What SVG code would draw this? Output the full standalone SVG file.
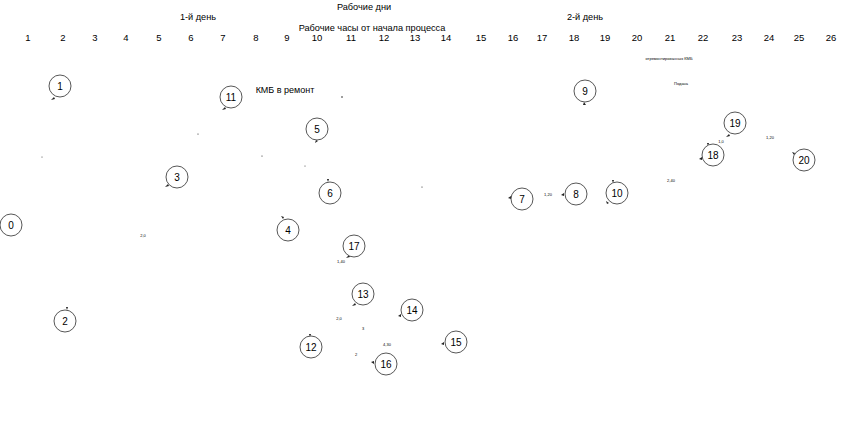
<svg xmlns="http://www.w3.org/2000/svg" width="854" height="430" viewBox="0 0 854 430">
<style>
.t{font-family:"Liberation Sans",Arial,sans-serif;fill:#000;text-anchor:middle}
.h{font-size:9.2px}
.n{font-size:9.5px}
.c circle{fill:#fff;stroke:#444;stroke-width:0.9}
.c text{font-family:"Liberation Sans",Arial,sans-serif;font-size:10px;text-anchor:middle;fill:#000}
.s{font-size:4px}
.x{font-size:4px}
.a{fill:#222}
</style>
<rect width="854" height="430" fill="#fff"/>
<g id="header">
<text class="t h" x="364" y="10">Рабочие дни</text>
<text class="t h" x="198" y="20">1-й день</text>
<text class="t h" x="585" y="20">2-й день</text>
<text class="t h" x="372" y="31">Рабочие часы от начала процесса</text>
<g class="t n">
<text x="28" y="41">1</text><text x="63" y="41">2</text><text x="95" y="41">3</text><text x="126" y="41">4</text><text x="159" y="41">5</text><text x="191" y="41">6</text><text x="223" y="41">7</text><text x="256" y="41">8</text><text x="287" y="41">9</text><text x="317" y="41">10</text><text x="351" y="41">11</text><text x="384" y="41">12</text><text x="415" y="41">13</text><text x="446" y="41">14</text><text x="481" y="41">15</text><text x="513" y="41">16</text><text x="542" y="41">17</text><text x="574" y="41">18</text><text x="605" y="41">19</text><text x="637" y="41">20</text><text x="670" y="41">21</text><text x="703" y="41">22</text><text x="737" y="41">23</text><text x="769" y="41">24</text><text x="799" y="41">25</text><text x="831" y="41">26</text>
</g>
<text class="t" style="font-size:9px" x="285" y="93">КМБ в ремонт</text>
<text class="t x" x="669" y="60">отремонтированных КМБ</text>
<text class="t x" x="681" y="85">Подача</text>
</g>
<g id="connectors">
<path class="a" d="M51 100l3-3 1 2z"/>
<path class="a" d="M222 110l3-3 1 2z"/>
<path class="a" d="M165 187l3-3 1 2z"/>
<path class="a" d="M315 143l1-3 2 1z"/>
<path class="a" d="M327 179l2 0-1 3z"/>
<path class="a" d="M281 216l3 1-1 2z"/>
<path class="a" d="M66 307l2 0-1 3z"/>
<path class="a" d="M346 258l3-3 1 2z"/>
<path class="a" d="M352 306l3-3 1 2z"/>
<path class="a" d="M398 316l3-2 0 3z"/>
<path class="a" d="M309 334l2 0-1 3z"/>
<path class="a" d="M371 362l3-1 0 3z"/>
<path class="a" d="M441 344l3-2 0 3z"/>
<path class="a" d="M583 105l1-3 2 3z"/>
<path class="a" d="M612 180l2 0-1 3z"/>
<path class="a" d="M606 201l3 2-2 1z"/>
<path class="a" d="M508 198l3-2 0 3z"/>
<path class="a" d="M561 195l3-2 0 3z"/>
<path class="a" d="M699 159l3-2 0 3z"/>
<path class="a" d="M707 143l2 0-1 3z"/>
<path class="a" d="M726 137l3-3 1 2z"/>
<path class="a" d="M792 152l3 1-1 2z"/>
<circle class="a" cx="342" cy="97" r="0.8"/>
<circle class="a" cx="422" cy="187" r="0.6"/>
<circle class="a" cx="198" cy="134" r="0.6"/>
<circle class="a" cx="262" cy="156" r="0.6"/>
<circle class="a" cx="305" cy="166" r="0.5"/>
<circle class="a" cx="42" cy="157" r="0.5"/>
<text class="t s" x="548" y="196">1,20</text>
<text class="t s" x="671" y="182">2,40</text>
<text class="t s" x="770" y="139">1,20</text>
<text class="t s" x="721" y="143">1,0</text>
<text class="t s" x="341" y="263">1,40</text>
<text class="t s" x="387" y="346">4,30</text>
<text class="t s" x="356" y="356">2</text>
<text class="t s" x="363" y="330">3</text>
<text class="t s" x="339" y="320">2,0</text>
<text class="t s" x="143" y="237">2,0</text>
</g>
<g id="n0" class="c"><circle cx="11" cy="225" r="11"/><text x="11" y="229">0</text></g>
<g id="n1" class="c"><circle cx="60" cy="86" r="11"/><text x="60" y="90">1</text></g>
<g id="n2" class="c"><circle cx="65" cy="321" r="11"/><text x="65" y="325">2</text></g>
<g id="n3" class="c"><circle cx="177" cy="177" r="11"/><text x="177" y="181">3</text></g>
<g id="n4" class="c"><circle cx="288" cy="230" r="11"/><text x="288" y="234">4</text></g>
<g id="n5" class="c"><circle cx="317" cy="129" r="11"/><text x="317" y="133">5</text></g>
<g id="n6" class="c"><circle cx="330" cy="193" r="11"/><text x="330" y="197">6</text></g>
<g id="n7" class="c"><circle cx="522" cy="199" r="11"/><text x="522" y="203">7</text></g>
<g id="n8" class="c"><circle cx="576" cy="194" r="11"/><text x="576" y="198">8</text></g>
<g id="n9" class="c"><circle cx="585" cy="91" r="11"/><text x="585" y="95">9</text></g>
<g id="n10" class="c"><circle cx="617" cy="193" r="11"/><text x="617" y="197">10</text></g>
<g id="n11" class="c"><circle cx="231" cy="97" r="11"/><text x="231" y="101">11</text></g>
<g id="n12" class="c"><circle cx="311" cy="347" r="11"/><text x="311" y="351">12</text></g>
<g id="n13" class="c"><circle cx="363" cy="294" r="11"/><text x="363" y="298">13</text></g>
<g id="n14" class="c"><circle cx="412" cy="310" r="11"/><text x="412" y="314">14</text></g>
<g id="n15" class="c"><circle cx="456" cy="342" r="11"/><text x="456" y="346">15</text></g>
<g id="n16" class="c"><circle cx="386" cy="364" r="11"/><text x="386" y="368">16</text></g>
<g id="n17" class="c"><circle cx="354" cy="246" r="11"/><text x="354" y="250">17</text></g>
<g id="n18" class="c"><circle cx="713" cy="155" r="11"/><text x="713" y="159">18</text></g>
<g id="n19" class="c"><circle cx="735" cy="123" r="11"/><text x="735" y="127">19</text></g>
<g id="n20" class="c"><circle cx="804" cy="160" r="11"/><text x="804" y="164">20</text></g>
</svg>
